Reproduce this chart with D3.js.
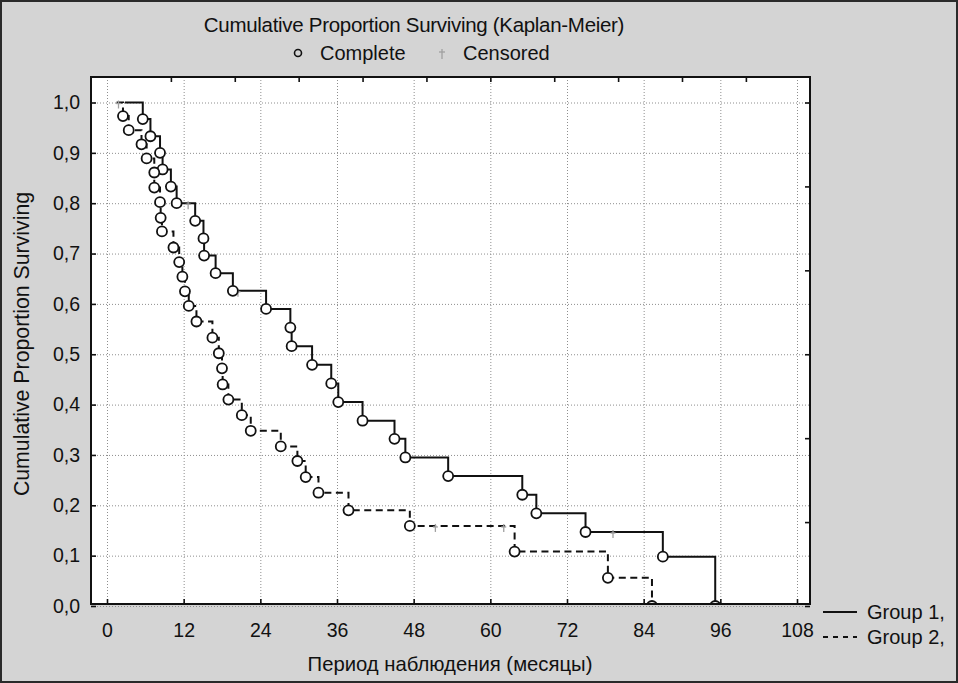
<!DOCTYPE html>
<html>
<head>
<meta charset="utf-8">
<script src="https://d3js.org/d3.v7.min.js"></script>
<style>
  html, body { margin: 0; padding: 0; background: #d4d4d4; }
  svg { display: block; font-family: "Liberation Sans", Arial, sans-serif; }
</style>
</head>
<body>
<svg id="chart" width="958" height="683"></svg>
<script>
// ---------------- data ----------------
const chartTitle = "Cumulative Proportion Surviving (Kaplan-Meier)";
const xTitle = "Период наблюдения (месяцы)";
const yTitle = "Cumulative Proportion Surviving";
const xTicks = [0, 12, 24, 36, 48, 60, 72, 84, 96, 108];
const yTicks = [0, 0.1, 0.2, 0.3, 0.4, 0.5, 0.6, 0.7, 0.8, 0.9, 1.0];
const topTicks = [10, 20, 30, 40, 50, 60, 70, 80, 90, 100];
const rightTicks = [0, 1/6, 2/6, 3/6, 4/6, 5/6, 1];
const seriesNames = ["Group 1,", "Group 2,"];

// Group 1 (solid)
const g1Start = 2.8;
const g1Times = [5.6, 6.8, 8.3, 8.7, 10.0, 10.9, 13.8, 15.1, 15.2, 17.0, 19.7, 24.9, 28.7, 28.9, 32.1, 35.1, 36.2, 40.0, 45.0, 46.7, 53.4, 65.0, 67.2, 74.9, 87.0, 95.2];
const g1Surv  = [0.967, 0.933, 0.900, 0.867, 0.833, 0.800, 0.765, 0.730, 0.696, 0.661, 0.626, 0.590, 0.553, 0.516, 0.479, 0.442, 0.405, 0.368, 0.332, 0.295, 0.258, 0.221, 0.184, 0.147, 0.098, 0.0];
const g1Censored = [12.7, 20.5, 79.2];

// Group 2 (dashed)
const g2Start = 1.5;
const g2Times = [2.5, 3.4, 5.4, 6.2, 7.4, 7.4, 8.3, 8.4, 8.6, 10.4, 11.3, 11.8, 12.2, 12.8, 14.0, 16.5, 17.5, 18.0, 18.1, 19.0, 21.1, 22.5, 27.2, 29.8, 31.1, 33.1, 37.8, 47.4, 63.8, 78.4, 85.3];
const g2Surv  = [0.973, 0.945, 0.917, 0.889, 0.861, 0.831, 0.802, 0.771, 0.744, 0.712, 0.683, 0.654, 0.625, 0.596, 0.565, 0.533, 0.502, 0.472, 0.440, 0.410, 0.379, 0.348, 0.317, 0.288, 0.256, 0.225, 0.190, 0.159, 0.108, 0.056, 0.0];
const g2Censored = [1.8, 51.4, 62.1];

// ---------------- layout ----------------
const W = 958, H = 683;
const plot = { left: 91, right: 810, top: 77, bottom: 604 };
const svg = d3.select("#chart");
const FONT = 19.5;
const INK = "#111";

const x = d3.scaleLinear().domain([0, 108]).range([107, 797]);
const y = d3.scaleLinear().domain([0, 1]).range([606, 102.5]);
const fmt = d3.formatLocale({ decimal: ",", thousands: " ", grouping: [3], currency: ["", ""] }).format(".1f");

// background + outer frame
svg.append("rect").attr("x", 0).attr("y", 0).attr("width", W).attr("height", H).attr("fill", "#d4d4d4");
svg.append("rect").attr("x", 1).attr("y", 1).attr("width", W - 2).attr("height", H - 2)
  .attr("fill", "none").attr("stroke", "#2a2a2a").attr("stroke-width", 2);

// plot area
svg.append("rect").attr("x", plot.left).attr("y", plot.top)
  .attr("width", plot.right - plot.left).attr("height", plot.bottom - plot.top).attr("fill", "#ffffff");

svg.append("defs").append("clipPath").attr("id", "clip")
  .append("rect").attr("x", plot.left).attr("y", plot.top)
  .attr("width", plot.right - plot.left).attr("height", plot.bottom - plot.top);

// gridlines
const grid = svg.append("g").attr("stroke", "#8e8e8e").attr("stroke-width", 1).attr("stroke-dasharray", "1,2");
grid.selectAll("line.v").data(xTicks).join("line").attr("class", "v")
  .attr("x1", d => x(d) + 0.5).attr("x2", d => x(d) + 0.5).attr("y1", plot.top).attr("y2", plot.bottom);
grid.selectAll("line.h").data(yTicks).join("line").attr("class", "h")
  .attr("x1", plot.left).attr("x2", plot.right).attr("y1", d => y(d) + 0.5).attr("y2", d => y(d) + 0.5);

// axes (inward ticks)
const axB = d3.axisBottom(x).tickValues(xTicks).tickSizeInner(-5).tickSizeOuter(0).tickPadding(19);
const axL = d3.axisLeft(y).tickValues(yTicks).tickSizeInner(-5).tickSizeOuter(0).tickPadding(11).tickFormat(fmt);
const axT = d3.axisTop(x).tickValues(topTicks).tickSizeInner(-5).tickSizeOuter(0).tickFormat("");
const axR = d3.axisRight(y).tickValues(rightTicks).tickSizeInner(-5).tickSizeOuter(0).tickFormat("");

function styleAxis(g) {
  g.select(".domain").remove();
  g.selectAll(".tick line").attr("stroke", INK).attr("stroke-width", 1.6);
  g.selectAll(".tick text").attr("fill", INK).attr("font-size", FONT)
    .attr("font-family", "'Liberation Sans', Arial, sans-serif");
}
svg.append("g").attr("transform", `translate(0,${plot.bottom})`).call(axB).call(styleAxis);
svg.append("g").attr("transform", `translate(${plot.left},0)`).call(axL).call(styleAxis);
svg.append("g").attr("transform", `translate(0,${plot.top})`).call(axT).call(styleAxis);
svg.append("g").attr("transform", `translate(${plot.right},0)`).call(axR).call(styleAxis);

// step curves
function stepPoints(start, times, surv) {
  const pts = [[start, 1]];
  let prev = 1;
  times.forEach((t, i) => { pts.push([t, prev]); pts.push([t, surv[i]]); prev = surv[i]; });
  return pts;
}
function levelAt(t, times, surv) {
  let s = 1;
  times.forEach((tt, i) => { if (tt <= t) s = surv[i]; });
  return s;
}
const line = d3.line().x(d => x(d[0])).y(d => y(d[1]));
const marks = svg.append("g").attr("clip-path", "url(#clip)");

const groups = [
  { start: g1Start, times: g1Times, surv: g1Surv, cens: g1Censored, dash: null },
  { start: g2Start, times: g2Times, surv: g2Surv, cens: g2Censored, dash: "7,4.5" }
];
groups.forEach(g => {
  marks.append("path").datum(stepPoints(g.start, g.times, g.surv))
    .attr("d", line).attr("fill", "none").attr("stroke", INK).attr("stroke-width", 2)
    .attr("stroke-dasharray", g.dash);
});
// censored marks
groups.forEach(g => {
  const cg = marks.append("g").attr("stroke", "#a0a0a0").attr("stroke-width", 1.3);
  g.cens.forEach(t => {
    const cx = x(t), cy = y(levelAt(t, g.times, g.surv));
    cg.append("line").attr("x1", cx).attr("x2", cx).attr("y1", cy - 2).attr("y2", cy + 6);
    cg.append("line").attr("x1", cx - 2.5).attr("x2", cx + 2.5).attr("y1", cy + 1).attr("y2", cy + 1);
  });
});
// complete (event) circles
groups.forEach(g => {
  marks.append("g").selectAll("circle").data(g.times.map((t, i) => [t, g.surv[i]])).join("circle")
    .attr("cx", d => x(d[0])).attr("cy", d => y(d[1])).attr("r", 5)
    .attr("fill", "#fff").attr("stroke", INK).attr("stroke-width", 1.8);
});

// plot frame
svg.append("rect").attr("x", plot.left).attr("y", plot.top)
  .attr("width", plot.right - plot.left).attr("height", plot.bottom - plot.top)
  .attr("fill", "none").attr("stroke", INK).attr("stroke-width", 2);

// title + top legend
svg.append("text").attr("x", 414).attr("y", 32).attr("text-anchor", "middle")
  .attr("font-size", 20.5).attr("fill", INK).attr("letter-spacing", -0.3).text(chartTitle);
svg.append("circle").attr("cx", 298).attr("cy", 53).attr("r", 3.5)
  .attr("fill", "none").attr("stroke", INK).attr("stroke-width", 1.6);
svg.append("text").attr("x", 320).attr("y", 60).attr("font-size", 20).attr("fill", INK).text("Complete");
const lc = svg.append("g").attr("stroke", "#a0a0a0").attr("stroke-width", 1.3);
lc.append("line").attr("x1", 442).attr("x2", 442).attr("y1", 49).attr("y2", 59);
lc.append("line").attr("x1", 439).attr("x2", 445).attr("y1", 52).attr("y2", 52);
svg.append("text").attr("x", 463).attr("y", 60).attr("font-size", 20).attr("fill", INK).text("Censored");

// axis titles
svg.append("text").attr("x", 450).attr("y", 671).attr("text-anchor", "middle")
  .attr("font-size", 20.3).attr("fill", INK).text(xTitle);
svg.append("text").attr("transform", "translate(29,344) rotate(-90)").attr("text-anchor", "middle")
  .attr("font-size", 21.3).attr("fill", INK).text(yTitle);

// bottom-right legend
const leg = svg.append("g");
[0, 1].forEach(i => {
  const ly = 612 + i * 25;
  leg.append("line").attr("x1", 823).attr("x2", 857).attr("y1", ly).attr("y2", ly)
    .attr("stroke", INK).attr("stroke-width", 1.8).attr("stroke-dasharray", i === 1 ? "5,5" : null);
  leg.append("text").attr("x", 867).attr("y", ly + 7).attr("font-size", 20).attr("fill", INK).text(seriesNames[i]);
});
</script>
</body>
</html>
